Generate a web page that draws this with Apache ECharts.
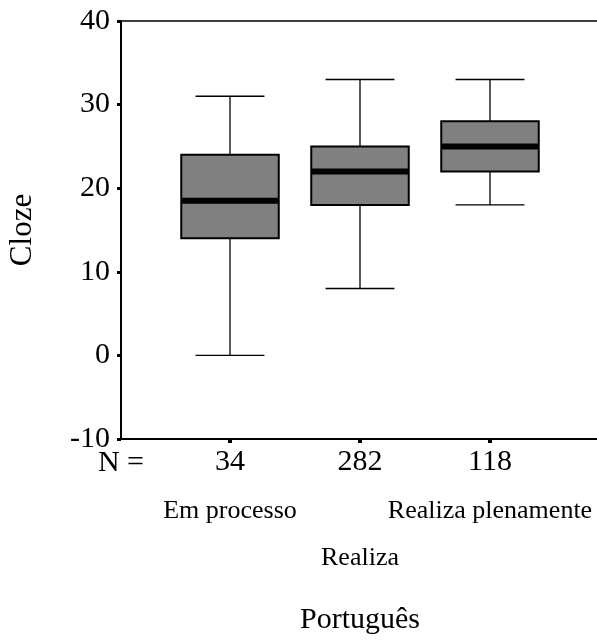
<!DOCTYPE html>
<html>
<head>
<meta charset="utf-8">
<script src="https://cdn.jsdelivr.net/npm/echarts@6/dist/echarts.min.js"></script>
<style>html,body{margin:0;padding:0;background:#fff;}#c{width:597px;height:642px;}</style>
</head>
<body>
<div id="c"></div>
<script>
const categories = ['Em processo', 'Realiza', 'Realiza plenamente'];
const nCounts = ['34', '282', '118'];
const whiskerLow = [0, 8, 18];
const q1 = [14, 18, 22];
const median = [18.5, 22, 25];
const q3 = [24, 25, 28];
const whiskerHigh = [31, 33, 33];
const yTicks = [-10, 0, 10, 20, 30, 40];

const FONT = '"Liberation Serif", "Times New Roman", serif';
const boxData = categories.map((c, i) => [i, whiskerLow[i], q1[i], median[i], q3[i], whiskerHigh[i]]);

const chart = echarts.init(document.getElementById('c'), null, {renderer: 'canvas'});
chart.setOption({
  backgroundColor: '#fff',
  animation: false,
  grid: [
    {left: 121, right: -5, top: 21, bottom: 642 - 439, containLabel: false, outerBoundsMode: 'none'},
    {left: 165, right: 597 - 555, top: 21, bottom: 642 - 439, containLabel: false, outerBoundsMode: 'none'}
  ],
  xAxis: [
    {gridIndex: 0, type: 'value', min: 0, max: 1, position: 'bottom',
      axisLine: {show: true, onZero: false, lineStyle: {color: '#000', width: 2}},
      axisTick: {show: false}, axisLabel: {show: false}, splitLine: {show: false}},
    {gridIndex: 0, type: 'value', min: 0, max: 1, position: 'top',
      axisLine: {show: true, onZero: false, lineStyle: {color: '#000', width: 1.5}},
      axisTick: {show: false}, axisLabel: {show: false}, splitLine: {show: false}},
    {gridIndex: 1, type: 'category', data: categories, position: 'bottom',
      axisLine: {show: false, onZero: false},
      axisTick: {show: true, alignWithLabel: true, length: 4, lineStyle: {color: '#000', width: 4}},
      axisLabel: {color: '#000', fontFamily: FONT, fontSize: 30, margin: 8,
        formatter: (v, i) => nCounts[i]},
      name: 'Português', nameLocation: 'middle', nameGap: 166,
      nameTextStyle: {color: '#000', fontFamily: FONT, fontSize: 30}},
    {gridIndex: 1, type: 'category', data: categories, position: 'bottom', offset: 42,
      axisLine: {show: false, onZero: false}, axisTick: {show: false},
      axisLabel: {color: '#000', fontFamily: FONT, fontSize: 26, margin: 7, lineHeight: 47,
        interval: 0, formatter: (v, i) => (i % 2 === 1 ? '\n' + v : v)}}
  ],
  yAxis: [
    {gridIndex: 0, type: 'value', min: yTicks[0], max: yTicks[yTicks.length - 1], interval: 10,
      axisLine: {show: true, onZero: false, lineStyle: {color: '#000', width: 2}},
      axisTick: {show: true, length: 4, lineStyle: {color: '#000', width: 3}},
      axisLabel: {color: '#000', fontFamily: FONT, fontSize: 30, margin: 11},
      splitLine: {show: false},
      name: 'Cloze', nameLocation: 'middle', nameGap: 83,
      nameTextStyle: {color: '#000', fontFamily: FONT, fontSize: 31}},
    {gridIndex: 1, type: 'value', min: yTicks[0], max: yTicks[yTicks.length - 1], show: false}
  ],
  graphic: [
    {type: 'text', x: 121, y: 463,
      style: {text: 'N =', fontFamily: FONT, fontSize: 30, fill: '#000', align: 'center', verticalAlign: 'middle'}}
  ],
  series: [{
    type: 'custom',
    xAxisIndex: 2, yAxisIndex: 1,
    data: boxData,
    encode: {x: 0, y: [1, 2, 3, 4, 5]},
    renderItem: function (params, api) {
      const idx = api.value(0);
      const pLo = api.coord([idx, api.value(1)]);
      const pQ1 = api.coord([idx, api.value(2)]);
      const pMed = api.coord([idx, api.value(3)]);
      const pQ3 = api.coord([idx, api.value(4)]);
      const pHi = api.coord([idx, api.value(5)]);
      const band = api.size([1, 0])[0];
      const boxW = band * 0.75;
      const capW = band * 0.53;
      const cx = pMed[0];
      const ls = {stroke: '#000', lineWidth: 1.3};
      return {
        type: 'group',
        children: [
          {type: 'line', shape: {x1: cx, y1: pHi[1], x2: cx, y2: pQ3[1]}, style: ls},
          {type: 'line', shape: {x1: cx, y1: pQ1[1], x2: cx, y2: pLo[1]}, style: ls},
          {type: 'line', shape: {x1: cx - capW / 2, y1: pHi[1], x2: cx + capW / 2, y2: pHi[1]}, style: ls},
          {type: 'line', shape: {x1: cx - capW / 2, y1: pLo[1], x2: cx + capW / 2, y2: pLo[1]}, style: ls},
          {type: 'rect', shape: {x: cx - boxW / 2, y: pQ3[1], width: boxW, height: pQ1[1] - pQ3[1]},
            style: {fill: '#808080', stroke: '#000', lineWidth: 2}},
          {type: 'rect', shape: {x: cx - boxW / 2, y: pMed[1] - 3, width: boxW, height: 6},
            style: {fill: '#000'}}
        ]
      };
    }
  }]
});
</script>
</body>
</html>
